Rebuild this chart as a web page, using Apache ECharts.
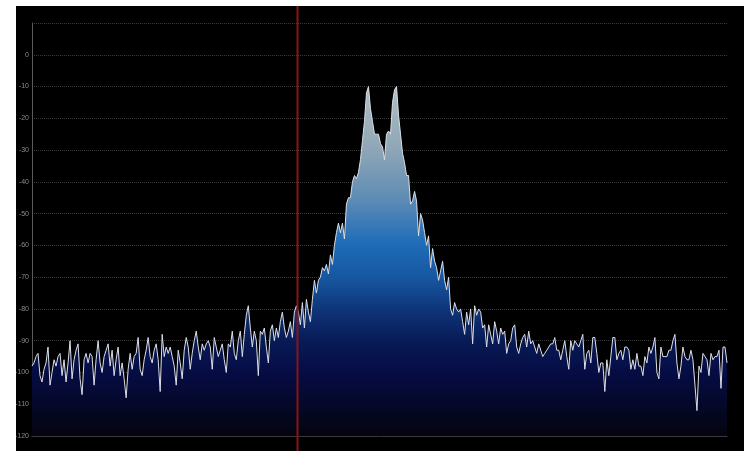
<!DOCTYPE html>
<html>
<head>
<meta charset="utf-8">
<script src="https://cdn.jsdelivr.net/npm/echarts@6/dist/echarts.min.js"></script>
<style>
html,body{margin:0;padding:0;background:#fff;width:748px;height:451px;overflow:hidden;}
#chart{position:absolute;left:16px;top:6px;width:728px;height:445px;}
</style>
</head>
<body>
<div id="chart"></div>
<script>
// Spectrum levels (dB), one value per frequency bin, left to right
const noiseLeft = [-98,-97,-95,-94,-101,-103,-99,-97,-92,-104,
  -100,-96,-98,-95,-94,-101,-96,-103,-97,-90,
  -102,-96,-93,-91,-102,-107,-96,-94,-97,-94,
  -95,-104,-96,-90,-97,-100,-95,-93,-91,-98,
  -93,-101,-96,-92,-101,-97,-102,-108,-99,-94,
  -99,-95,-94,-89,-99,-101,-96,-93,-89,-95];
const noiseMid = [-97,-93,-91,-96,-106,-88,-95,-92,-94,-92,
  -95,-98,-104,-93,-97,-102,-93,-89,-92,-99,
  -94,-90,-87,-92,-96,-91,-93,-91,-90,-92,
  -99,-89,-92,-95,-93,-91,-96,-100,-91,-92,
  -87,-94,-96,-90,-87,-95,-88,-82,-79,-86,
  -92,-87,-90,-101,-87,-88,-86,-92,-97,-87,
  -85,-90];
const riseAndPeak = [-86,-89,-84,-81,-86,-89,-87,-84,-89,-81,
  -79,-81,-85,-78,-86,-77,-81,-84,-77,-71,
  -75,-71,-70,-67,-68,-66,-69,-63,-66,-60,
  -56,-53,-56,-53,-58,-47,-45,-45,-40,-38,
  -39,-37,-33,-27,-21,-12,-10,-17,-21,-25,
  -25,-25,-28,-29,-33,-25,-24,-25];
const peakAndFall = [-15,-11,-10,-19,-25,-31,-34,-38,-38,-47,
  -46,-43,-46,-57,-50,-52,-56,-60,-57,-67,
  -61,-65,-67,-71,-68,-65,-71,-74,-70,-80,
  -82,-78,-80,-81,-80,-84,-88,-81,-85,-80,
  -91,-79,-82,-80,-81,-86,-85,-92,-85,-88,
  -91,-84,-87,-91,-86];
const noiseRight = [-88,-87,-94,-91,-90,-86,-85,-92,-94,-91,
  -89,-88,-92,-87,-91,-90,-92,-94,-91,-93,
  -95,-94,-93,-92,-91,-91,-89,-93,-93,-96,
  -93,-90,-95,-99,-90,-93,-90,-91,-92,-90,
  -88,-99,-94,-93,-97,-89,-89,-94,-100,-97,
  -97,-106,-96,-101,-95,-89,-89,-96,-94,-93];
const noiseFar = [-96,-92,-92,-93,-99,-96,-99,-94,-98,-98,
  -101,-95,-97,-92,-94,-92,-89,-100,-102,-92,
  -95,-95,-95,-93,-93,-90,-88,-97,-102,-98,
  -92,-95,-96,-96,-93,-96,-104,-112,-98,-100,
  -94,-95,-96,-101,-94,-96,-95,-95,-93,-105,
  -92,-92,-97];

const levels = [].concat(noiseLeft, noiseMid, riseAndPeak, peakAndFall, noiseRight, noiseFar);
const markerBin = 132.5;          // red marker position (bin)
const yTicks = { min: -120, max: 10, step: 10 };

const chart = echarts.init(document.getElementById('chart'));
chart.setOption({
  backgroundColor: '#000',
  animation: false,
  grid: { left: 16, right: 17, top: 17, bottom: 15, containLabel: false, outerBoundsMode: 'none' },
  xAxis: {
    type: 'value', min: 0, max: levels.length - 1,
    axisLabel: { show: false }, axisTick: { show: false },
    axisLine: { show: true, onZero: false, lineStyle: { color: '#3a3a3a', width: 1 } },
    splitLine: { show: false }
  },
  yAxis: {
    type: 'value', min: yTicks.min, max: yTicks.max, interval: yTicks.step,
    axisLine: { show: true, lineStyle: { color: '#5a5a5a', width: 1 } },
    axisTick: { show: false },
    axisLabel: { color: '#8c8c8c', fontSize: 7, fontFamily: 'Liberation Sans, Arial', margin: 3, showMaxLabel: false },
    splitLine: { show: true, lineStyle: { color: '#3a3a3a', type: 'dotted', width: 1 } }
  },
  series: [{
    type: 'line',
    data: levels.map((v, i) => [i, v]),
    symbol: 'none',
    smooth: false,
    lineStyle: { color: '#dcdfe8', width: 1 },
    areaStyle: {
      origin: 'start',
      opacity: 1,
      color: new echarts.graphic.LinearGradient(0, 0, 0, 1, [
        { offset: 0.00, color: '#b0bec2' },
        { offset: 0.18, color: '#8ea6b6' },
        { offset: 0.32, color: '#5f8cb4' },
        { offset: 0.45, color: '#1f6cb8' },
        { offset: 0.55, color: '#1656a0' },
        { offset: 0.64, color: '#0e3478' },
        { offset: 0.73, color: '#081a56' },
        { offset: 0.82, color: '#060c44' },
        { offset: 1.00, color: '#04040e' }
      ])
    }
  }]
});

const px = Math.round(chart.convertToPixel({ xAxisIndex: 0 }, markerBin));
chart.setOption({
  graphic: [{
    type: 'rect', z: 100, silent: true,
    shape: { x: px - 0.5, y: 0, width: 2, height: 445 },
    style: { fill: '#8a1414', stroke: null }
  }]
});
</script>
</body>
</html>
